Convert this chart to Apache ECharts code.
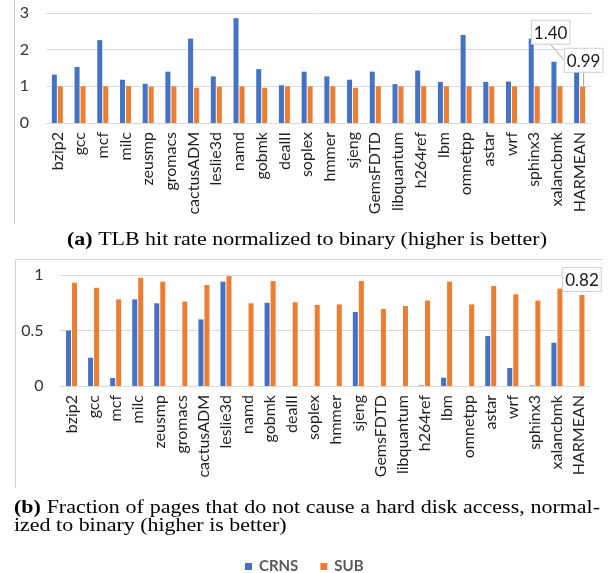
<!DOCTYPE html>
<html>
<head>
<meta charset="utf-8">
<script src="https://cdn.jsdelivr.net/npm/echarts@6/dist/echarts.min.js"></script>
<style>
  html, body { margin: 0; padding: 0; background: #fff; }
  #chart { width: 613px; height: 573px; }
</style>
</head>
<body>
<div id="chart"></div>
<script>
// SPEC CPU2006 benchmarks plus the harmonic mean
const benchmarks = ['bzip2', 'gcc', 'mcf', 'milc', 'zeusmp', 'gromacs', 'cactusADM', 'leslie3d',
  'namd', 'gobmk', 'dealII', 'soplex', 'hmmer', 'sjeng', 'GemsFDTD', 'libquantum', 'h264ref',
  'lbm', 'omnetpp', 'astar', 'wrf', 'sphinx3', 'xalancbmk', 'HARMEAN'];

// (a) TLB hit rate, normalized to binary
const tlbCRNS = [1.32, 1.53, 2.26, 1.18, 1.07, 1.40, 2.30, 1.27, 2.86, 1.47, 1.03, 1.40,
  1.27, 1.18, 1.40, 1.06, 1.43, 1.12, 2.40, 1.12, 1.13, 2.30, 1.67, 1.40];
const tlbSUB = [1.00, 1.00, 1.00, 1.01, 0.99, 1.00, 0.96, 0.99, 1.00, 0.96, 1.00, 1.00,
  1.00, 0.96, 1.00, 1.00, 1.00, 1.00, 1.00, 1.00, 1.00, 1.00, 1.00, 0.99];
const tlbTicks = [0, 1, 2, 3];

// (b) fraction of pages that avoid a hard disk access, normalized to binary
const diskCRNS = [0.50, 0.255, 0.072, 0.78, 0.745, 0, 0.60, 0.94, 0, 0.75, 0, 0,
  0, 0.667, 0, 0, 0.005, 0.075, 0, 0.45, 0.162, 0.005, 0.39, 0];
const diskSUB = [0.93, 0.885, 0.78, 0.975, 0.94, 0.76, 0.91, 0.99, 0.745, 0.945, 0.755, 0.73,
  0.735, 0.946, 0.694, 0.72, 0.77, 0.94, 0.735, 0.90, 0.826, 0.77, 0.877, 0.82];
const diskTicks = [0, 0.5, 1];

const seriesNames = ['CRNS', 'SUB'];
const colors = ['#4472C4', '#ED7D31'];

const captionA = ['(a)', ' TLB hit rate normalized to binary (higher is better)'];
const captionBLine1 = ['(b)', 'Fraction', 'of', 'pages', 'that', 'do', 'not', 'cause', 'a', 'hard', 'disk', 'access,', 'normal-'];
const captionBLine2 = 'ized to binary (higher is better)';

const last = benchmarks.length - 1;
const UI_FONT = 'Lato';
const SERIF = 'Liberation Serif';

// Boxed value callout used on the HARMEAN bars
const calloutLabel = {
  show: true,
  position: 'top',
  distance: 4,
  formatter: p => p.value.toFixed(2),
  fontFamily: UI_FONT,
  fontSize: 17,
  color: '#1a1a1a',
  backgroundColor: '#ffffff',
  borderColor: '#c7d0de',
  borderWidth: 1,
  padding: [4, 2, 2, 2]
};

function withCallout(values, showCallout) {
  return values.map((v, i) => (showCallout && i === last) ? { value: v, label: calloutLabel } : v);
}

function axisRange(ticks) {
  return { min: ticks[0], max: ticks[ticks.length - 1], interval: ticks[1] - ticks[0] };
}

function xAxisFor(gridIndex) {
  return {
    type: 'category',
    gridIndex,
    data: benchmarks,
    axisLine: { lineStyle: { color: '#d9d9d9' } },
    axisTick: { show: false },
    axisLabel: { rotate: 90, interval: 0, margin: 9, fontFamily: UI_FONT, fontSize: 16, color: '#1f1f1f' }
  };
}

function yAxisFor(gridIndex, ticks) {
  return Object.assign({
    type: 'value',
    gridIndex,
    axisLine: { show: false },
    axisTick: { show: false },
    splitLine: { lineStyle: { color: '#d9d9d9' } },
    axisLabel: { margin: 17, fontFamily: UI_FONT, fontSize: 16, color: '#333' }
  }, axisRange(ticks));
}

function barSeries(name, color, axisIndex, data, layout) {
  const s = {
    name,
    type: 'bar',
    xAxisIndex: axisIndex,
    yAxisIndex: axisIndex,
    barWidth: 5,
    barGap: '20%',
    itemStyle: { color },
    data
  };
  if (layout) {
    s.labelLayout = layout;
    s.labelLine = { show: true, lineStyle: { color: '#a6a6a6', width: 1 } };
  }
  return s;
}

// Callout offsets for the first panel
const tlbBlueLayout = p => (p.dataIndex === last ? { dx: -26, dy: -24 } : {});
const tlbOrangeLayout = p => (p.dataIndex === last ? { dx: 1, dy: -11 } : {});

// Captions: serif text, widened horizontally like the figure's typesetting
const measureCtx = document.createElement('canvas').getContext('2d');
const capSize = 18;
const capStretch = 1.22;
function textWidth(t, bold) {
  measureCtx.font = (bold ? 'bold ' : '') + capSize + 'px "' + SERIF + '"';
  return measureCtx.measureText(t).width * capStretch;
}
function captionText(text, x, y, bold) {
  return {
    type: 'text', x, y, scaleX: capStretch, originX: 0, originY: 0,
    style: {
      text, x: 0, y: 0, fontFamily: SERIF, fontSize: capSize,
      fontWeight: bold ? 'bold' : 'normal', fill: '#000', textVerticalAlign: 'middle'
    }
  };
}

const captionEls = [];
// (a) centred under the first panel
const aW0 = textWidth(captionA[0], true), aW1 = textWidth(captionA[1], false);
const aLeft = 307 - (aW0 + aW1) / 2;
captionEls.push(captionText(captionA[0], aLeft, 240, true));
captionEls.push(captionText(captionA[1], aLeft + aW0, 240, false));

// (b) first line justified between the panel edges
const lineLeft = 14, lineRight = 600;
const widths = captionBLine1.map((w, i) => textWidth(w, i === 0));
const spaceW = (lineRight - lineLeft - widths.reduce((a, b) => a + b, 0)) / (captionBLine1.length - 1);
let cx = lineLeft;
captionBLine1.forEach((w, i) => {
  captionEls.push(captionText(w, cx, 508, i === 0));
  cx += widths[i] + spaceW;
});
captionEls.push(captionText(captionBLine2, lineLeft, 526, false));

const chart = echarts.init(document.getElementById('chart'), null, { renderer: 'canvas' });
chart.setOption({
  animation: false,
  textStyle: { fontFamily: UI_FONT },
  grid: [
    { left: 46, right: 22, top: 13, height: 110 },
    { left: 60.5, right: 23, top: 275, height: 111 }
  ],
  xAxis: [xAxisFor(0), xAxisFor(1)],
  yAxis: [yAxisFor(0, tlbTicks), yAxisFor(1, diskTicks)],
  legend: {
    data: seriesNames,
    left: 240,
    top: 554,
    icon: 'rect',
    itemWidth: 7,
    itemHeight: 7,
    itemGap: 22,
    textStyle: { fontFamily: UI_FONT, fontWeight: 'bold', fontSize: 15, color: '#595959', padding: [0, 0, 0, 2] }
  },
  series: [
    barSeries(seriesNames[0], colors[0], 0, withCallout(tlbCRNS, true), tlbBlueLayout),
    barSeries(seriesNames[1], colors[1], 0, withCallout(tlbSUB, true), tlbOrangeLayout),
    barSeries(seriesNames[0], colors[0], 1, withCallout(diskCRNS, false)),
    barSeries(seriesNames[1], colors[1], 1, withCallout(diskSUB, true))
  ],
  graphic: [
    // panel frames
    { type: 'line', shape: { x1: 14.5, y1: 0, x2: 14.5, y2: 224 }, style: { stroke: '#cfcfcf', lineWidth: 1 } },
    { type: 'line', shape: { x1: 15.5, y1: 259.5, x2: 15.5, y2: 488 }, style: { stroke: '#cfcfcf', lineWidth: 1 } },
    { type: 'line', shape: { x1: 15.5, y1: 259.5, x2: 602, y2: 259.5 }, style: { stroke: '#cfcfcf', lineWidth: 1 } },
    ...captionEls
  ]
});
</script>
</body>
</html>
